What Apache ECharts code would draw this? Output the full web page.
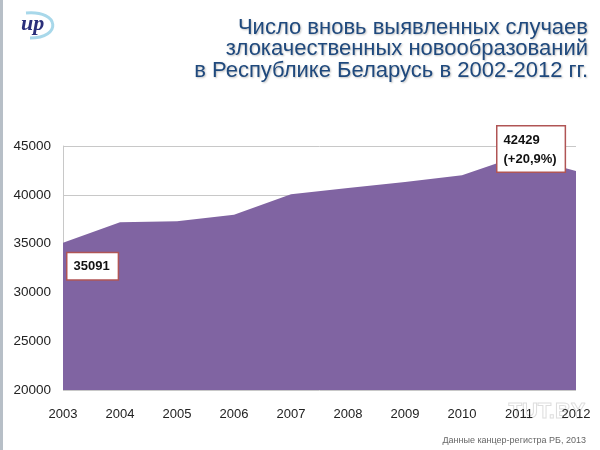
<!DOCTYPE html>
<html><head><meta charset="utf-8">
<script src="https://cdn.jsdelivr.net/npm/echarts@6/dist/echarts.min.js"></script>
<style>html,body{margin:0;padding:0;background:#fff}#c{width:600px;height:450px}</style>
</head><body><div id="c"></div>
<script>
const years = ['2003','2004','2005','2006','2007','2008','2009','2010','2011','2012'];
const cases = [35091, 37200, 37300, 37950, 40050, 40700, 41300, 42000, 44000, 42429];
const yTicks = {min: 20000, max: 45000, interval: 5000};
const titleLines = ['Число вновь выявленных случаев', 'злокачественных новообразований', 'в Республике Беларусь в 2002-2012 гг.'];
const labelTexts = {0: '35091', 9: '42429\n(+20,9%)'};
const footnote = 'Данные канцер-регистра РБ, 2013';

const chart = echarts.init(document.getElementById('c'));
const labelPos = {0: [5, 11], 9: [-78, -44]};
const seriesData = cases.map((v, i) => {
  if (labelTexts[i] === undefined) return v;
  return {value: v, label: {show: true, formatter: labelTexts[i], position: labelPos[i]}};
});
chart.setOption({
  backgroundColor: '#fff',
  animation: false,
  graphic: [
    {type: 'rect', left: 0, top: 0, shape: {width: 3, height: 450}, style: {fill: '#b7bfc7'}},
    {type: 'bezierCurve', shape: {x1: 26, y1: 13, cpx1: 60, cpy1: 10, cpx2: 62, cpy2: 38, x2: 30, y2: 38},
      style: {stroke: '#a8d8ea', lineWidth: 3, fill: null}},
    {type: 'text', left: 21, top: 13, style: {text: 'ир', font: 'italic bold 22px "Liberation Serif"', fill: '#2a2f7a'}},
    {type: 'text', x: 588, y: 17, style: {text: titleLines.join('\n'), textAlign: 'right', lineHeight: 21.5,
      font: '22px "Liberation Sans"', fill: '#1f497d',
      textShadowColor: 'rgba(0,0,0,0.25)', textShadowBlur: 2, textShadowOffsetX: 1, textShadowOffsetY: 1}},
    {type: 'text', left: 508, top: 400, style: {text: 'TUT.BY', font: 'bold 22px "Liberation Sans"', fill: 'rgba(255,255,255,0)', stroke: 'rgba(190,190,190,0.5)', lineWidth: 1}},
    {type: 'text', right: 14, top: 436, style: {text: footnote, font: '9px "Liberation Sans"', fill: '#666'}}
  ],
  grid: {left: 63, right: 24, top: 146, bottom: 60},
  xAxis: {
    type: 'category', data: years, boundaryGap: false,
    axisLine: {show: false}, axisTick: {show: false},
    axisLabel: {color: '#222', fontSize: 13, fontFamily: 'Liberation Sans', margin: 18}
  },
  yAxis: {
    type: 'value', min: yTicks.min, max: yTicks.max, interval: yTicks.interval,
    axisLine: {show: true, lineStyle: {color: '#c8c8c8'}}, axisTick: {show: false},
    axisLabel: {color: '#222', fontSize: 13.5, fontFamily: 'Liberation Sans', margin: 12, formatter: v => String(v)},
    splitLine: {lineStyle: {color: '#c8c8c8', width: 1}}
  },
  series: [{
    type: 'line', data: seriesData,
    symbol: 'circle', symbolSize: 1, showSymbol: true, itemStyle: {color: 'rgba(0,0,0,0)', borderWidth: 0},
    lineStyle: {width: 0},
    areaStyle: {color: '#8064a2', opacity: 1, origin: 'start'},
    label: {show: false, color: '#111', fontSize: 13, fontWeight: 'bold', fontFamily: 'Liberation Sans',
      backgroundColor: '#fff', borderColor: '#b05555', borderWidth: 1.5, padding: [4, 8, 3, 6], lineHeight: 19, align: 'left', verticalAlign: 'top'},
    z: 2
  }]
});
</script></body></html>
